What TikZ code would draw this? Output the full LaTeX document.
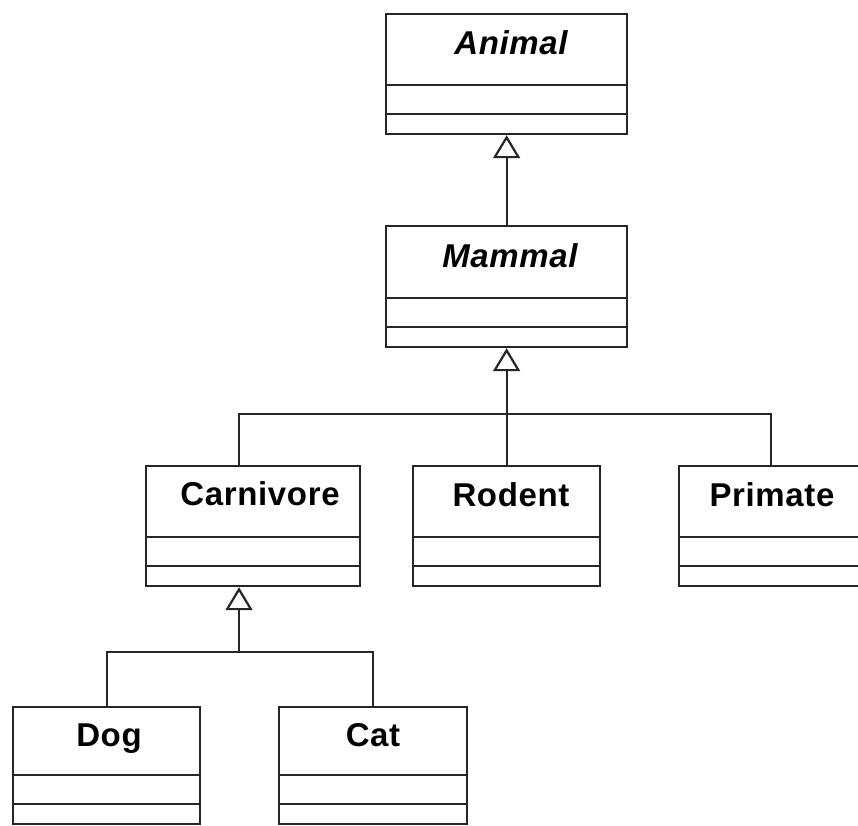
\documentclass[tikz,border=0pt]{standalone}
\usepackage{fontspec}
\setmainfont{Liberation Sans}
\newfontfamily\umlfont[LetterSpace=2]{Liberation Sans}
\usetikzlibrary{arrows.meta,calc}

% class box: outer frame plus the two compartment separators
\newcommand\umlclass[5]{% #1 name, #2 left, #3 top, #4 right, #5 bottom
  \node[classbox, minimum width={#4-#2}, minimum height={#5-#3}, anchor=north west] (#1) at (#2,#3) {};
  \draw[classline] ([yshift=50pt]#1.south west) -- ([yshift=50pt]#1.south east);
  \draw[classline] ([yshift=21pt]#1.south west) -- ([yshift=21pt]#1.south east);
}

\begin{document}
\begin{tikzpicture}[x=1pt,y=-1pt,
  classline/.style={draw=black!85, line width=2.2pt},
  classbox/.style={classline, rectangle, inner sep=0pt, fill=white},
  classname/.style={anchor=base, inner sep=0pt, font=\umlfont\bfseries\fontsize{33}{33}\selectfont},
  inherit/.style={classline, -{Triangle[open, length=23pt, width=27pt]}},
  conn/.style={classline}]
  \clip (0,0) rectangle (858,825);
  \fill[white] (0,0) rectangle (858,825);

  % classes
  \umlclass{animal}{385}{13}{626}{133}
  \umlclass{mammal}{385}{225}{626}{346}
  \umlclass{carnivore}{145}{465}{359}{585}
  \umlclass{rodent}{412}{465}{599}{585}
  \umlclass{primate}{678}{465}{862}{585}
  \umlclass{dog}{12}{706}{199}{823}
  \umlclass{cat}{278}{706}{466}{823}

  % class names
  \node[classname] (animal-name)    at (511,54)  {\itshape Animal};
  \node[classname] (mammal-name)    at (510,267) {\itshape Mammal};
  \node[classname] (carnivore-name) at (260,505) {Carnivore};
  \node[classname] (rodent-name)    at (511,506) {Rodent};
  \node[classname] (primate-name)   at (772,506) {Primate};
  \node[classname] (dog-name)       at (109,746) {Dog};
  \node[classname] (cat-name)       at (373,746) {Cat};

  % generalisation: Mammal -> Animal
  \draw[inherit] (mammal.north) -- (animal.south);

  % generalisation: Carnivore, Rodent, Primate -> Mammal
  \coordinate (busM) at ($(mammal.south)+(0,66)$);
  \draw[inherit] (busM) -- (mammal.south);
  \draw[conn] ([xshift=-14pt]carnivore.north) |- (busM) -| (primate.north);
  \draw[conn] (rodent.north) -- (rodent.north |- busM);

  % generalisation: Dog, Cat -> Carnivore
  \coordinate (busC) at (239,652);
  \draw[inherit] (busC) -- (carnivore.south -| busC);
  \draw[conn] (dog.north) |- (busC) -| (cat.north);
\end{tikzpicture}
\end{document}
